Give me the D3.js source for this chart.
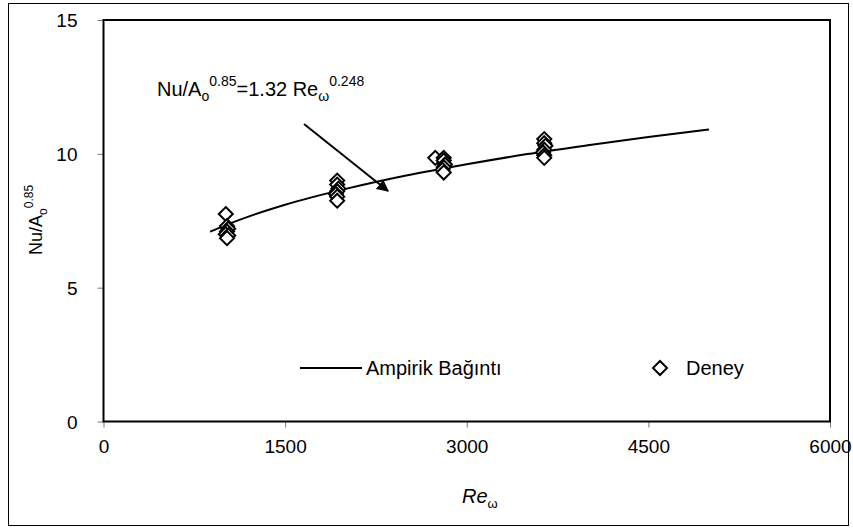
<!DOCTYPE html>
<html>
<head>
<meta charset="utf-8">
<script src="https://d3js.org/d3.v7.min.js"></script>
<style>
  body { margin: 0; background: #fff; }
  text { font-family: "Liberation Sans", Arial, sans-serif; fill: #000; }
</style>
</head>
<body>
<div id="chart"></div>
<script>
// tick values
var xTicks = [0, 1500, 3000, 4500, 6000];
var yTicks = [0, 5, 10, 15];

// Ampirik Bağıntı: Nu/Ao^0.85 = 1.32 Re^0.248
var fitRe = [880, 1000, 1250, 1500, 2000, 2500, 3000, 3500, 4000, 4500, 5000];
var fitNu = [7.09, 7.32, 7.74, 8.10, 8.69, 9.19, 9.61, 9.99, 10.32, 10.63, 10.91];

// Deney points
var deneyRe = [1010, 1020, 1030, 1020, 1010, 1030, 1020,
               1930, 1930, 1940, 1930, 1920, 1930, 1930,
               2740, 2810, 2810, 2820, 2810, 2800, 2810,
               3640, 3640, 3650, 3640, 3630, 3640, 3640];
var deneyNu = [7.75, 7.3, 7.2, 7.1, 7.0, 6.95, 6.85,
               9.0, 8.85, 8.7, 8.6, 8.5, 8.4, 8.25,
               9.85, 9.85, 9.75, 9.6, 9.5, 9.4, 9.3,
               10.55, 10.4, 10.3, 10.15, 10.05, 9.95, 9.85];

var width = 853, height = 529;
var pLeft = 103.5, pRight = 830, pTop = 20, pBottom = 421.5;

var svg = d3.select("#chart").append("svg")
    .attr("width", width)
    .attr("height", height);

// outer frame
svg.append("rect")
    .attr("x", 8.5).attr("y", 3.5)
    .attr("width", 840).attr("height", 522)
    .attr("fill", "none").attr("stroke", "#000").attr("stroke-width", 1);

var x = d3.scaleLinear().domain([0, 6000]).range([pLeft, pRight]);
var y = d3.scaleLinear().domain([0, 15]).range([pBottom, pTop]);

// axes
var xAxis = svg.append("g")
    .attr("transform", "translate(0," + pBottom + ")")
    .call(d3.axisBottom(x).tickValues(xTicks).tickSize(6).tickPadding(12).tickFormat(d3.format("d")));
var yAxis = svg.append("g")
    .attr("transform", "translate(" + pLeft + ",0)")
    .call(d3.axisLeft(y).tickValues(yTicks).tickSize(6).tickPadding(20).tickFormat(d3.format("d")));

[xAxis, yAxis].forEach(function(a) {
    a.select(".domain").remove();
    a.selectAll(".tick line").attr("stroke", "#777");
    a.selectAll(".tick text").style("font-size", "19px").attr("fill", "#000");
});
yAxis.selectAll(".tick text").attr("dy", "0.35em");

// plot area box
svg.append("rect")
    .attr("x", pLeft).attr("y", pTop)
    .attr("width", pRight - pLeft).attr("height", pBottom - pTop)
    .attr("fill", "none").attr("stroke", "#000").attr("stroke-width", 2);

// fit curve
var line = d3.line()
    .x(function(d, i) { return x(fitRe[i]); })
    .y(function(d, i) { return y(fitNu[i]); })
    .curve(d3.curveMonotoneX);
svg.append("path")
    .datum(fitNu)
    .attr("d", line)
    .attr("fill", "none").attr("stroke", "#000").attr("stroke-width", 2);

// diamonds
var diamond = "M0,-7L7,0L0,7L-7,0Z";
svg.append("g").selectAll("path")
    .data(deneyNu)
    .enter()
    .append("path")
    .attr("d", diamond)
    .attr("transform", function(d, i) { return "translate(" + x(deneyRe[i]) + "," + y(d) + ")"; })
    .attr("fill", "#fff").attr("stroke", "#000").attr("stroke-width", 2);

// annotation
var ann = svg.append("text").attr("x", 157).attr("y", 96).style("font-size", "20px");
ann.append("tspan").text("Nu/A");
ann.append("tspan").text("o").style("font-size", "14px").attr("dy", 5);
ann.append("tspan").text("0.85").style("font-size", "14px").attr("dy", -15);
ann.append("tspan").text("=1.32 Re").attr("dy", 10);
ann.append("tspan").text("ω").style("font-size", "14px").attr("dy", 5);
ann.append("tspan").text("0.248").style("font-size", "14px").attr("dy", -15);

svg.append("defs").append("marker")
    .attr("id", "arr")
    .attr("viewBox", "0 0 10 10")
    .attr("refX", 9).attr("refY", 5)
    .attr("markerWidth", 6).attr("markerHeight", 6)
    .attr("orient", "auto")
    .append("path").attr("d", "M0,0L10,5L0,10Z").attr("fill", "#000");

svg.append("line")
    .attr("x1", 304).attr("y1", 124)
    .attr("x2", 388).attr("y2", 191)
    .attr("stroke", "#000").attr("stroke-width", 2)
    .attr("marker-end", "url(#arr)");

// legend
var ly = 368;
svg.append("line")
    .attr("x1", 300).attr("x2", 362).attr("y1", ly).attr("y2", ly)
    .attr("stroke", "#000").attr("stroke-width", 2);
svg.append("text").attr("x", 366).attr("y", ly + 7).style("font-size", "20px").text("Ampirik Bağıntı");
svg.append("path").attr("d", diamond)
    .attr("transform", "translate(660," + ly + ")")
    .attr("fill", "#fff").attr("stroke", "#000").attr("stroke-width", 2);
svg.append("text").attr("x", 686).attr("y", ly + 7).style("font-size", "20px").text("Deney");

// axis titles
var xt = svg.append("text").attr("x", 462).attr("y", 503).style("font-size", "20px");
xt.append("tspan").text("Re").style("font-style", "italic");
xt.append("tspan").text("ω").style("font-size", "13px").attr("dy", 5);

var yt = svg.append("text")
    .attr("transform", "translate(42,255) rotate(-90)")
    .style("font-size", "18px");
yt.append("tspan").text("Nu/A");
yt.append("tspan").text("o").style("font-size", "12px").attr("dy", 5);
yt.append("tspan").text("0.85").style("font-size", "12px").attr("dy", -14);
</script>
</body>
</html>
